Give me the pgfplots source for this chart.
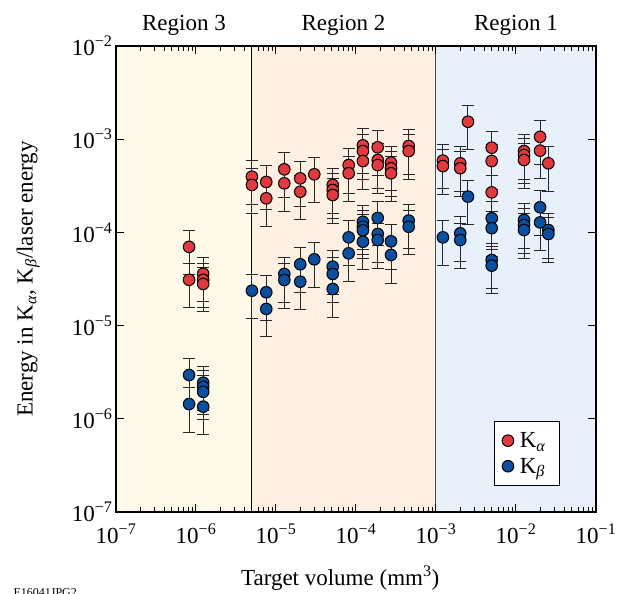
\documentclass[border=0pt]{standalone}
\usepackage{fontspec}
\setmainfont{Liberation Serif}
\usepackage{pgfplots}
\pgfplotsset{compat=1.18}
\definecolor{regthree}{HTML}{FEF9E8}
\definecolor{regtwo}{HTML}{FDEFE2}
\definecolor{regone}{HTML}{E8F0FA}
\definecolor{kared}{HTML}{E03A3E}
\definecolor{kbblue}{HTML}{0B4F9E}
\newcommand{\fs}{\fontsize{23}{27}\selectfont}
\begin{document}
\begin{tikzpicture}[x=1pt,y=1pt]
\useasboundingbox (0,0) rectangle (635,594);
\begin{axis}[
  at={(116pt,82pt)}, anchor=south west,
  scale only axis, width=480pt, height=466pt,
  xmode=log, ymode=log,
  xmin=1e-7, xmax=1e-1, ymin=1e-7, ymax=1e-2,
  clip=false, axis on top,
  axis line style={line width=1.1pt},
  every tick/.style={black, line width=1pt},
  tick align=inside,
  major tick length=8pt, minor tick length=5pt,
  xtick={1e-7,1e-6,1e-5,1e-4,1e-3,1e-2,1e-1},
  minor xtick={2e-7,3e-7,4e-7,5e-7,6e-7,7e-7,8e-7,9e-7,
    2e-6,3e-6,4e-6,5e-6,6e-6,7e-6,8e-6,9e-6,
    2e-5,3e-5,4e-5,5e-5,6e-5,7e-5,8e-5,9e-5,
    2e-4,3e-4,4e-4,5e-4,6e-4,7e-4,8e-4,9e-4,
    2e-3,3e-3,4e-3,5e-3,6e-3,7e-3,8e-3,9e-3,
    2e-2,3e-2,4e-2,5e-2,6e-2,7e-2,8e-2,9e-2},
  xticklabels={10\textsuperscript{−7},10\textsuperscript{−6},10\textsuperscript{−5},10\textsuperscript{−4},10\textsuperscript{−3},10\textsuperscript{−2},10\textsuperscript{−1}},
  ytick={1e-7,1e-6,1e-5,1e-4,1e-3,1e-2},
  yticklabels={10\textsuperscript{−7},10\textsuperscript{−6},10\textsuperscript{−5},10\textsuperscript{−4},10\textsuperscript{−3},10\textsuperscript{−2}},
  yminorticks=false,
  tick label style={font=\fs},
  xticklabel style={yshift=-8pt},
  xlabel={Target volume (mm\textsuperscript{3})},
  ylabel={Energy in K\textsubscript{\textit{α}}, K\textsubscript{\textit{β}}/laser energy},
  every axis x label/.style={at={(axis description cs:0.467,-0.142)}, anchor=center, font=\fs},
  every axis y label/.style={at={(axis description cs:-0.183,0.5)}, rotate=90, anchor=center, font=\fs},
  legend style={at={(0.925,0.056)}, anchor=south east, draw=black, line width=0.8pt, fill=white, font=\fs, inner xsep=8pt, inner ysep=9pt, row sep=5pt, nodes={inner xsep=6pt}},
  legend cell align=left,
]
\fill[regthree] (axis cs:1e-7,1e-7) rectangle (axis cs:5e-6,1e-2);
\fill[regtwo] (axis cs:5e-6,1e-7) rectangle (axis cs:1e-3,1e-2);
\fill[regone] (axis cs:1e-3,1e-7) rectangle (axis cs:1e-1,1e-2);
\draw[black, line width=1pt] (axis cs:5e-6,1e-7) -- (axis cs:5e-6,1e-2);
\draw[black!70, line width=1pt] (axis cs:1e-3,1e-7) -- (axis cs:1e-3,1e-2);
\node[font=\fs, anchor=base] at ([yshift=16pt]axis cs:7.08e-7,1e-2) {Region 3};
\node[font=\fs, anchor=base] at ([yshift=16pt]axis cs:6.98e-5,1e-2) {Region 2};
\node[font=\fs, anchor=base] at ([yshift=16pt]axis cs:1e-2,1e-2) {Region 1};

\addplot[only marks, mark=*, mark size=5.8pt, mark options={fill=kared, draw=black, line width=1pt},
  error bars/.cd, y dir=both, y fixed relative=0.5,
  error bar style={line width=1pt, black!85},
  error mark options={rotate=90, mark size=6pt, line width=1pt, black!85}]
table {
8.2e-7 7.0e-5
8.2e-7 3.1e-5
1.23e-6 3.6e-5
1.23e-6 3.1e-5
1.23e-6 2.8e-5
5.0e-6 3.96e-4
5.0e-6 3.23e-4
7.56e-6 3.48e-4
7.56e-6 2.32e-4
1.27e-5 4.75e-4
1.27e-5 3.36e-4
2.01e-5 3.80e-4
2.01e-5 2.73e-4
3.01e-5 4.20e-4
5.12e-5 3.23e-4
5.12e-5 2.85e-4
5.12e-5 2.52e-4
8.1e-5 5.28e-4
8.1e-5 4.31e-4
1.22e-4 8.59e-4
1.22e-4 7.46e-4
1.22e-4 5.83e-4
1.87e-4 8.18e-4
1.87e-4 5.98e-4
1.87e-4 5.28e-4
2.74e-4 5.60e-4
2.74e-4 4.88e-4
2.74e-4 4.31e-4
4.56e-4 8.45e-4
4.56e-4 7.46e-4
1.22e-3 5.89e-4
1.22e-3 5.15e-4
2.01e-3 5.51e-4
2.01e-3 4.88e-4
2.51e-3 1.54e-3
4.97e-3 8.11e-4
4.97e-3 5.83e-4
4.97e-3 2.69e-4
1.26e-2 7.46e-4
1.26e-2 6.76e-4
1.26e-2 5.98e-4
2.0e-2 1.06e-3
2.0e-2 7.54e-4
2.54e-2 5.51e-4
};
\addlegendentry{K\textsubscript{\textit{α}}}

\addplot[only marks, mark=*, mark size=5.8pt, mark options={fill=kbblue, draw=black, line width=1pt},
  error bars/.cd, y dir=both, y fixed relative=0.5,
  error bar style={line width=1pt, black!85},
  error mark options={rotate=90, mark size=6pt, line width=1pt, black!85}]
table {
8.2e-7 2.95e-6
8.2e-7 1.44e-6
1.23e-6 2.44e-6
1.23e-6 2.2e-6
1.23e-6 1.95e-6
1.23e-6 1.35e-6
5.0e-6 2.37e-5
7.56e-6 2.28e-5
7.56e-6 1.51e-5
1.27e-5 3.58e-5
1.27e-5 3.09e-5
2.01e-5 4.55e-5
2.01e-5 2.96e-5
3.01e-5 5.14e-5
5.12e-5 4.29e-5
5.12e-5 3.58e-5
5.12e-5 2.47e-5
8.1e-5 8.85e-5
8.1e-5 5.96e-5
1.22e-4 1.30e-4
1.22e-4 1.15e-4
1.22e-4 1.05e-4
1.22e-4 7.94e-5
1.87e-4 1.43e-4
1.87e-4 9.62e-5
1.87e-4 8.28e-5
2.74e-4 8.02e-5
2.74e-4 5.73e-5
4.56e-4 1.34e-4
4.56e-4 1.15e-4
1.22e-3 8.85e-5
2.01e-3 9.78e-5
2.01e-3 8.28e-5
2.51e-3 2.42e-4
4.97e-3 1.42e-4
4.97e-3 1.11e-4
4.97e-3 5.06e-5
4.97e-3 4.40e-5
1.26e-2 1.36e-4
1.26e-2 1.20e-4
1.26e-2 1.06e-4
2.0e-2 1.86e-4
2.0e-2 1.28e-4
2.54e-2 1.06e-4
2.54e-2 9.62e-5
};
\addlegendentry{K\textsubscript{\textit{β}}}
\end{axis}
\node[anchor=base west, font=\fontsize{12}{14}\selectfont] at (10,-3) {E16041JPG2};
\end{tikzpicture}
\end{document}
